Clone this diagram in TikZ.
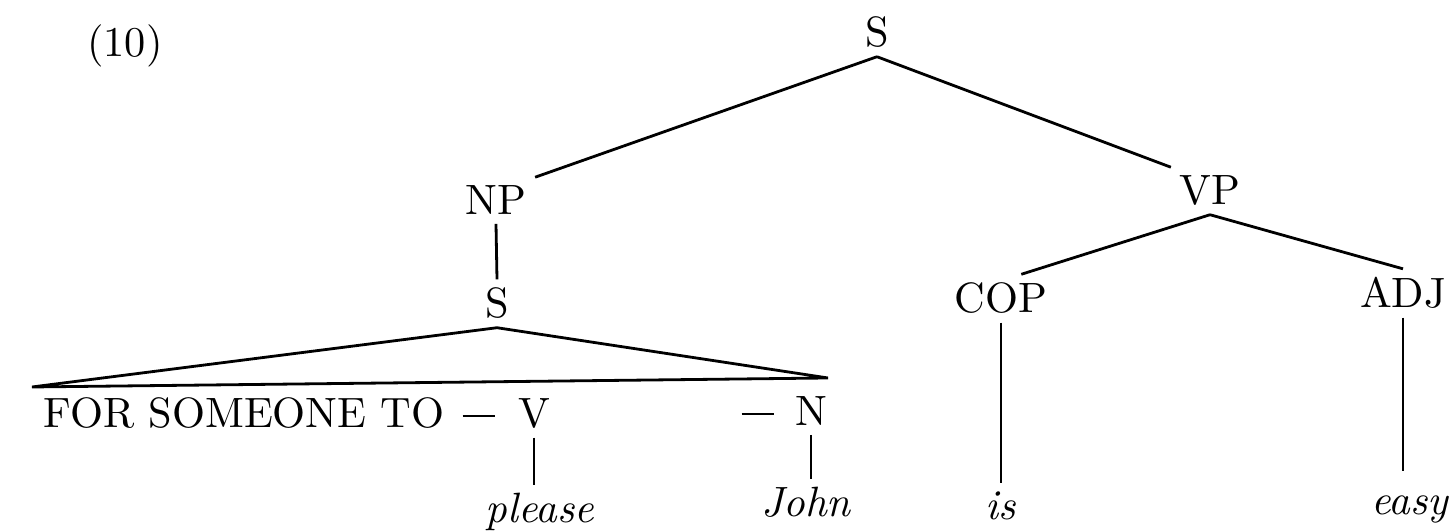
\documentclass[tikz,border=0pt]{standalone}
\begin{document}
\begin{tikzpicture}[x=0.25pt,y=-0.25pt,
  lab/.style={inner sep=2pt, font=\fontsize{10.6}{12}\selectfont, anchor=base},
  word/.style={lab, font=\fontsize{10.6}{12}\selectfont\itshape},
  edge/.style={line width=0.7pt}]
\useasboundingbox (0,0) rectangle (1449,531);
\newcommand{\longdash}{\rule[2.7pt]{8.2pt}{0.6pt}}
% labels
\node[lab] (num) at (125,57) {(10)};
\node[lab] (S0) at (877,47) {S};
\node[lab] (NP) at (496,215) {NP};
\node[lab] (VP) at (1210,205) {VP};
\node[lab] (S1) at (497,318) {S};
\node[lab] (COP) at (1001,313) {COP};
\node[lab] (ADJ) at (1403,308) {ADJ};
\node[lab, anchor=base west, inner sep=0pt] (for) at (43,428) {FOR SOMEONE TO};
\node[lab] (d1) at (479,428) {\longdash};
\node[lab] (V) at (534,428) {V};
\node[lab] (d2) at (758,426) {\longdash};
\node[lab] (N) at (811,426) {N};
\node[word] (please) at (540,523) {please};
\node[word] (John) at (806,517) {John};
\node[word] (is) at (1001,520) {is};
\node[word] (easy) at (1410,515) {easy};
% triangle corners
\coordinate (tl) at (32,387);
\coordinate (tr) at (828,378);
% connectors
\draw[edge] (S0.south) -- (NP.north east);
\draw[edge] (S0.south) -- (VP.north west);
\draw[edge] (NP.south) -- (S1.north);
\draw[edge] (VP.south) -- (COP.50);
\draw[edge] (VP.south) -- (ADJ.north);
\draw[edge] (S1.south) -- (tl) -- (tr) -- cycle;
\draw[edge] (V.south) -- (V.south |- please.north);
\draw[edge] (N.south) -- (N.south |- John.north);
\draw[edge] (COP.south) -- (is.north);
\draw[edge, shorten >=16pt*0.25] (ADJ.south) -- (ADJ.south |- easy.north);
\end{tikzpicture}
\end{document}
